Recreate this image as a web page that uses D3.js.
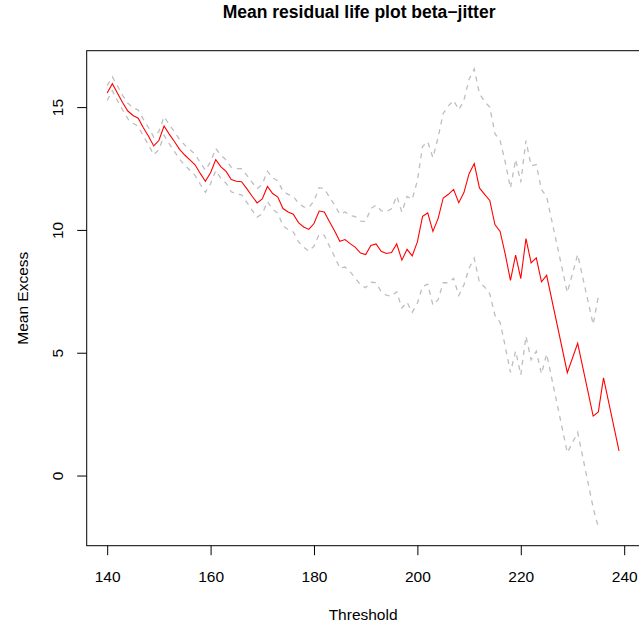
<!DOCTYPE html>
<html><head><meta charset="utf-8">
<script src="https://cdn.jsdelivr.net/npm/d3@7/dist/d3.min.js"></script>
<style>body{margin:0;background:#fff}svg{display:block}</style>
</head><body>
<svg id="chart" width="639" height="628"></svg>
<script>
const thresholds = [140,141,142,143,144,145,146,147,148,149,150,151,152,153,154,155,156,157,158,159,160,161,162,163,164,165,166,167,168,169,170,171,172,173,174,175,176,177,178,179,180,181,182,183,184,185,186,187,188,189,190,191,192,193,194,195,196,197,198,199,200,201,202,203,204,205,206,207,208,209,210,211,212,213,214,215,216,217,218,219,220,221,222,223,224,225,229,231,234,235,236,239];
const meanExcess = [15.57,15.95,15.56,15.18,14.84,14.66,14.55,14.16,13.81,13.42,
13.64,14.23,13.90,13.60,13.28,13.05,12.85,12.65,12.30,11.98,
12.33,12.86,12.57,12.38,12.05,11.98,11.96,11.68,11.38,11.10,
11.26,11.77,11.48,11.34,10.87,10.73,10.64,10.30,10.12,10.02,
10.26,10.77,10.73,10.33,9.96,9.54,9.61,9.44,9.29,9.06,
9.00,9.37,9.43,9.13,9.04,9.08,9.43,8.77,9.21,8.94,
9.51,10.55,10.69,9.94,10.46,11.30,11.45,11.65,11.11,11.52,
12.29,12.70,11.71,11.45,11.20,10.22,9.94,9.00,7.95,8.97,
8.02,9.65,8.66,8.86,7.89,8.15,
4.19,5.38,2.42,2.59,3.98,1.00];
const upperCI = [15.87,16.23,15.86,15.48,15.16,14.98,14.88,14.50,14.16,13.78,
14.01,14.61,14.29,14.00,13.68,13.46,13.27,13.08,12.74,12.43,
12.78,13.31,13.04,12.86,12.55,12.50,12.49,12.23,11.95,11.68,
11.86,12.39,12.12,12.00,11.57,11.45,11.36,11.08,10.94,10.90,
11.18,11.72,11.68,11.33,11.01,10.64,10.73,10.59,10.54,10.36,
10.35,10.87,11.01,10.78,10.74,10.86,11.38,10.72,11.36,11.24,
12.01,13.40,13.59,12.94,13.76,14.75,15.05,15.27,14.89,15.28,
16.14,16.55,15.56,15.22,15.00,13.92,13.64,12.75,11.70,12.87,
11.94,13.63,12.61,12.66,11.64,11.35,
7.45,9.00,6.15,7.29,null,null];
const lowerCI = [15.27,15.67,15.26,14.88,14.52,14.34,14.22,13.82,13.46,13.06,
13.27,13.85,13.51,13.20,12.88,12.64,12.43,12.22,11.86,11.53,
11.88,12.41,12.10,11.90,11.55,11.46,11.43,11.13,10.81,10.52,
10.66,11.15,10.84,10.68,10.17,10.01,9.92,9.52,9.30,9.14,
9.34,9.82,9.78,9.33,8.91,8.44,8.49,8.29,8.04,7.76,
7.65,7.87,7.85,7.48,7.34,7.30,7.48,6.82,7.06,6.64,
7.01,7.70,7.79,6.94,7.16,7.85,7.85,8.03,7.33,7.76,
8.44,8.85,7.86,7.68,7.40,6.52,6.24,5.25,4.20,5.07,
4.10,5.67,4.71,5.06,4.14,4.95,
0.93,1.76,-1.31,-2.11,null,null];
const xTicks = [140,160,180,200,220,240];
const yTicks = [0,5,10,15];
const chartTitle = "Mean residual life plot beta\u2212jitter";
const xLabel = "Threshold";
const yLabel = "Mean Excess";

const svg = d3.select("#chart");
const font = "'Liberation Sans', Arial, Helvetica, sans-serif";
const plot = {left: 86.7, right: 639.5, top: 50.7, bottom: 545.7};

const xExt = d3.extent(thresholds);
const xPad = 0.04 * (xExt[1] - xExt[0]);
const allY = meanExcess.concat(upperCI, lowerCI).filter(v => v != null);
const yExt = d3.extent(allY);
const yPad = 0.04 * (yExt[1] - yExt[0]);

const x = d3.scaleLinear().domain([xExt[0] - xPad, xExt[1] + xPad]).range([plot.left, plot.right]);
const y = d3.scaleLinear().domain([yExt[0] - yPad, yExt[1] + yPad]).range([plot.bottom, plot.top]);

const mk = arr => thresholds.map((t, i) => ({t, v: arr[i]}));
const line = d3.line().defined(d => d.v != null).x(d => x(d.t)).y(d => y(d.v));

const g = svg.append("g");
g.append("path").datum(mk(upperCI)).attr("d", line)
  .attr("fill", "none").attr("stroke", "#BEBEBE").attr("stroke-width", 1.3).attr("stroke-dasharray", "5,5");
g.append("path").datum(mk(lowerCI)).attr("d", line)
  .attr("fill", "none").attr("stroke", "#BEBEBE").attr("stroke-width", 1.3).attr("stroke-dasharray", "5,5");
g.append("path").datum(mk(meanExcess)).attr("d", line)
  .attr("fill", "none").attr("stroke", "#FF0000").attr("stroke-width", 1.1);

// box
svg.append("rect").attr("x", plot.left).attr("y", plot.top)
  .attr("width", plot.right - plot.left).attr("height", plot.bottom - plot.top)
  .attr("fill", "none").attr("stroke", "#000").attr("stroke-width", 1);

// x axis
const xAxis = d3.axisBottom(x).tickValues(xTicks).tickSize(9.5).tickPadding(6).tickFormat(d3.format("d"));
const gx = svg.append("g").attr("transform", `translate(0,${plot.bottom})`).call(xAxis);
gx.select(".domain").remove();
gx.selectAll("text").attr("font-family", font).attr("font-size", 15.5).attr("fill", "#000")
  .attr("dy", null).attr("y", 36);
gx.selectAll("line").attr("stroke", "#000");

// y axis
const yAxis = d3.axisLeft(y).tickValues(yTicks).tickSize(9.5).tickFormat(d3.format("d"));
const gy = svg.append("g").attr("transform", `translate(${plot.left},0)`).call(yAxis);
gy.select(".domain").remove();
gy.selectAll("line").attr("stroke", "#000");
gy.selectAll(".tick text").attr("font-family", font).attr("font-size", 15.5).attr("fill", "#000")
  .attr("x", null).attr("dy", null).attr("text-anchor", "middle")
  .attr("transform", "translate(-24,0) rotate(-90)");

// labels
svg.append("text").attr("x", (plot.left + plot.right) / 2 - 4).attr("y", 18)
  .attr("text-anchor", "middle").attr("font-family", font).attr("font-weight", "bold")
  .attr("font-size", 17.5).text(chartTitle);
svg.append("text").attr("x", (plot.left + plot.right) / 2).attr("y", 620)
  .attr("text-anchor", "middle").attr("font-family", font).attr("font-size", 15.5).text(xLabel);
svg.append("text").attr("transform", `translate(28,${(plot.top + plot.bottom) / 2}) rotate(-90)`)
  .attr("text-anchor", "middle").attr("font-family", font).attr("font-size", 15.5).text(yLabel);
</script>
</body></html>
